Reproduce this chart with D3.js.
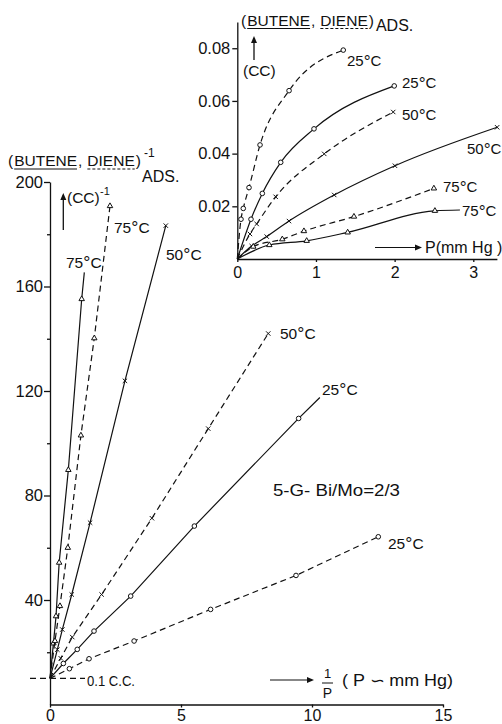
<!DOCTYPE html>
<html><head><meta charset="utf-8">
<script src="https://cdn.jsdelivr.net/npm/d3@7"></script>
<style>
body{margin:0;background:#fff}
svg text{font-family:"Liberation Sans",Arial,sans-serif;fill:#111}
</style></head><body>
<svg id="chart" width="502" height="724"></svg>
<script>
// ---- main plot: reciprocal amount adsorbed vs 1/P ----
const mainXTicks = [0, 5, 10, 15];
const mainYTicks = [40, 80, 120, 160, 200];
const mainYMinor = [20, 60, 100, 140, 180];
const interceptValue = 10; // 1 / 0.1 cc

// points: [1/P, 1/V, marker drawn (1) or line end only (0)]
const butene25Inv = [[0,10,0],[0.51,15.7,1],[1.04,21.1,1],[1.68,28.1,1],[3.08,41.5,1],[5.51,68.3,1],[9.49,109.5,1],[10.3,117.5,0]];
const diene25Inv  = [[0,10,0],[0.74,13.7,1],[1.49,17.5,1],[3.21,24.3,1],[6.13,36.4,1],[9.39,49.4,1],[12.53,64.2,1]];
const butene50Inv = [[0,10,0],[0.28,21,1],[0.47,28.7,1],[0.83,42.1,1],[1.53,69.6,1],[2.86,123.9,1],[4.42,183.3,1]];
const diene50Inv  = [[0,10,0],[0.41,17.7,1],[0.85,25.8,1],[1.97,42.1,1],[3.89,71.3,1],[6.04,105.6,1],[8.33,142,1]];
const butene75Inv = [[0,10,0],[0.13,23.4,1],[0.23,33.8,1],[0.35,54.3,1],[0.70,89.8,1],[1.21,155.2,1],[1.31,165.4,0]];
const diene75Inv  = [[0,10,0],[0.19,24.3,1],[0.38,37.7,1],[0.68,60,1],[1.18,103,1],[1.69,140.2,1],[2.29,190.8,1]];

// ---- inset: isotherms, amount adsorbed vs P ----
const insetXTicks = [0, 1, 2, 3];
const insetYTicks = [0.02, 0.04, 0.06, 0.08];
const butene25 = [[0,0,0],[0.174,0.0151,1],[0.318,0.0249,1],[0.552,0.0367,1],[0.975,0.0494,1],[1.995,0.0657,1]];
const diene25  = [[0,0,0],[0.047,0.0151,1],[0.076,0.0192,1],[0.149,0.0271,1],[0.289,0.0433,1],[0.658,0.0639,1],[1.347,0.0793,1]];
const butene50 = [[0,0,0],[0.183,0.0049,1],[0.374,0.0085,1],[0.657,0.0144,1],[1.232,0.0243,1],[2.004,0.0354,1],[3.303,0.05,1]];
const diene50  = [[0,0,0],[0.161,0.0095,1],[0.246,0.0133,1],[0.488,0.0236,1],[1.105,0.0399,1],[1.982,0.0558,1]];
const butene75 = [[0,0,0],[0.407,0.0053,1],[0.882,0.0069,1],[1.403,0.0101,1],[2.512,0.0183,1],[2.83,0.0186,0]];
const diene75  = [[0,0,0],[0.203,0.0047,1],[0.572,0.0075,1],[0.847,0.0106,1],[1.483,0.0161,1],[2.499,0.0268,1]];

const svg = d3.select("#chart");
const ink = "#111";
const FONT = '"Liberation Sans",Arial,sans-serif';

const x = d3.scaleLinear().domain([0, 15]).range([50, 443]);
const y = d3.scaleLinear().domain([0, 200]).range([704.5, 182]);
const xi = d3.scaleLinear().domain([0, 3.3]).range([237.3, 496.9]);
const yi = d3.scaleLinear().domain([0, 0.09]).range([259, 21.9]);

function styleAxis(g, size) {
  g.selectAll("path,line").attr("stroke", ink).attr("stroke-width", 1.3);
  g.selectAll("text").attr("font-size", size).attr("fill", ink).style("font-family", FONT);
}

// main axes
svg.append("g").attr("transform", `translate(0,${y(0)})`)
  .call(d3.axisBottom(x).tickValues(mainXTicks).tickSize(3).tickSizeOuter(0).tickPadding(2).tickFormat(d3.format("d")))
  .call(g => styleAxis(g, 16));
svg.append("g").attr("transform", `translate(${x(0)},0)`)
  .call(d3.axisLeft(y).tickValues(mainYTicks).tickSize(6).tickSizeOuter(0).tickPadding(1).tickFormat(d3.format("d")))
  .call(g => styleAxis(g, 16.5));
svg.append("g").attr("transform", `translate(${x(0)},0)`)
  .call(d3.axisLeft(y).tickValues(mainYMinor).tickSize(3).tickSizeOuter(0).tickFormat(""))
  .call(g => { styleAxis(g, 16); g.select(".domain").remove(); });

// inset axes
svg.append("g").attr("transform", `translate(0,${yi(0)})`)
  .call(d3.axisBottom(xi).tickValues(insetXTicks).tickSize(3).tickSizeOuter(0).tickPadding(5).tickFormat(d3.format("d")))
  .call(g => styleAxis(g, 16));
svg.append("g").attr("transform", `translate(${xi(0)},0)`)
  .call(d3.axisLeft(yi).tickValues(insetYTicks).tickSize(5).tickSizeOuter(0).tickPadding(2).tickFormat(d3.format(".2f")))
  .call(g => styleAxis(g, 16.5));

// series drawing
function drawSeries(data, sx, sy, dashed, marker, curve) {
  const line = d3.line().x(d => sx(d[0])).y(d => sy(d[1])).curve(curve);
  svg.append("path").datum(data).attr("d", line)
    .attr("fill", "none").attr("stroke", ink).attr("stroke-width", 1.2)
    .attr("stroke-dasharray", dashed ? "6,4" : null);
  const pts = data.filter(d => d[2]);
  const g = svg.append("g").attr("stroke", ink).attr("stroke-width", 1).attr("fill", "#fff");
  pts.forEach(d => {
    const px = sx(d[0]), py = sy(d[1]);
    if (marker === "circle") {
      g.append("circle").attr("cx", px).attr("cy", py).attr("r", 2.3);
    } else if (marker === "cross") {
      g.append("path").attr("d", `M${px-2.2},${py-2.2}L${px+2.2},${py+2.2}M${px-2.2},${py+2.2}L${px+2.2},${py-2.2}`);
    } else {
      g.append("path").attr("transform", `translate(${px},${py})`)
        .attr("d", d3.symbol(d3.symbolTriangle, 13)());
    }
  });
}

drawSeries(butene25Inv, x, y, false, "circle", d3.curveLinear);
drawSeries(diene25Inv,  x, y, true,  "circle", d3.curveLinear);
drawSeries(butene50Inv, x, y, false, "cross",  d3.curveLinear);
drawSeries(diene50Inv,  x, y, true,  "cross",  d3.curveLinear);
drawSeries(butene75Inv, x, y, false, "tri",    d3.curveLinear);
drawSeries(diene75Inv,  x, y, true,  "tri",    d3.curveLinear);

drawSeries(butene25, xi, yi, false, "circle", d3.curveMonotoneX);
drawSeries(diene25,  xi, yi, true,  "circle", d3.curveMonotoneX);
drawSeries(butene50, xi, yi, false, "cross",  d3.curveMonotoneX);
drawSeries(diene50,  xi, yi, true,  "cross",  d3.curveMonotoneX);
drawSeries(butene75, xi, yi, false, "tri",    d3.curveMonotoneX);
drawSeries(diene75,  xi, yi, true,  "tri",    d3.curveMonotoneX);

// text helpers
function txt(s, px, py, size, len, anchor) {
  const t = svg.append("text").attr("x", px).attr("y", py).attr("font-size", size).text(s);
  if (len) t.attr("textLength", len).attr("lengthAdjust", "spacingAndGlyphs");
  if (anchor) t.attr("text-anchor", anchor);
  return t;
}
function tempLabel(temp, px, py, size) {
  const t = svg.append("text").attr("x", px).attr("y", py).attr("font-size", size);
  t.append("tspan").text(temp);
  t.append("tspan").attr("font-size", size * 1.15).attr("dy", 1).text("°");
  t.append("tspan").attr("dy", -1).text("C");
}
function arrowRight(x1, x2, yy) {
  svg.append("line").attr("x1", x1).attr("x2", x2 - 2).attr("y1", yy).attr("y2", yy)
    .attr("stroke", ink).attr("stroke-width", 1.2);
  svg.append("path").attr("d", `M${x2},${yy}L${x2-7},${yy-3}L${x2-7},${yy+3}Z`).attr("fill", ink);
}
function arrowUp(xx, y1, y2) {
  svg.append("line").attr("x1", xx).attr("x2", xx).attr("y1", y1).attr("y2", y2 + 2)
    .attr("stroke", ink).attr("stroke-width", 1.3);
  svg.append("path").attr("d", `M${xx},${y2}L${xx-3},${y2+7}L${xx+3},${y2+7}Z`).attr("fill", ink);
}
function underline(x1, x2, yy, dashed) {
  svg.append("line").attr("x1", x1).attr("x2", x2).attr("y1", yy).attr("y2", yy)
    .attr("stroke", ink).attr("stroke-width", 1.1).attr("stroke-dasharray", dashed ? "3,2" : null);
}
// "(BUTENE, DIENE)" as a row of words, BUTENE underlined solid and DIENE dashed
function speciesTitle(px, py, size) {
  const words = [["(", 0], ["BUTENE", 1], [",", 0], ["DIENE", 2], [")", 0]];
  const gaps = [1, 1, 5, 1, 0];
  let cx = px;
  words.forEach(([w, u], i) => {
    const t = txt(w, cx, py, size);
    const len = t.node().getComputedTextLength();
    if (u) underline(cx, cx + len, py + 3, u === 2);
    cx += len + gaps[i];
  });
  return cx;
}

// main axis title
const mainTitleEnd = speciesTitle(8, 166, 15.5);
txt("-1", mainTitleEnd + 3, 157, 12);
txt("ADS.", 142, 182, 16);
arrowUp(63.3, 230, 193);
txt("(CC)", 67, 203, 15.5);
txt("-1", 100, 195, 11);

// main series labels
tempLabel("75", 66, 268, 15.5);
tempLabel("75", 114, 233, 15.5);
tempLabel("50", 166, 260, 15.5);
tempLabel("50", 280, 339, 15.5);
tempLabel("25", 322, 395, 15.5);
tempLabel("25", 388, 549, 15.5);

txt("5-G- Bi/Mo=2/3", 273, 496, 16, 127);

// intercept marker
svg.append("line").attr("x1", 30).attr("x2", 85).attr("y1", y(interceptValue)).attr("y2", y(interceptValue))
  .attr("stroke", ink).attr("stroke-width", 1.1).attr("stroke-dasharray", "6,4");
txt("0.1 C.C.", 87, 686, 14.5, 48);

// main x-axis title
arrowRight(270, 314, 680);
txt("1", 327.5, 678, 13, null, "middle");
svg.append("line").attr("x1", 322).attr("x2", 333).attr("y1", 683).attr("y2", 683).attr("stroke", ink).attr("stroke-width", 1);
txt("P", 327.5, 698, 14, null, "middle");
txt("( P \u223D mm Hg)", 342, 686, 16, 111);

// inset titles
const insetTitleEnd = speciesTitle(241, 25.5, 15.5);
txt("ADS.", insetTitleEnd + 2, 31, 16);
arrowUp(254, 60, 36);
txt("(CC)", 243, 76, 15.5);
arrowRight(375, 422, 247.5);
txt("P(mm Hg )", 425, 253, 16);

// inset series labels
tempLabel("25", 347, 66, 15);
tempLabel("25", 402, 88, 15);
tempLabel("50", 402, 120, 15);
tempLabel("50", 467, 154, 15);
tempLabel("75", 443, 192, 15);
tempLabel("75", 462, 216, 15);
</script>
</body></html>
